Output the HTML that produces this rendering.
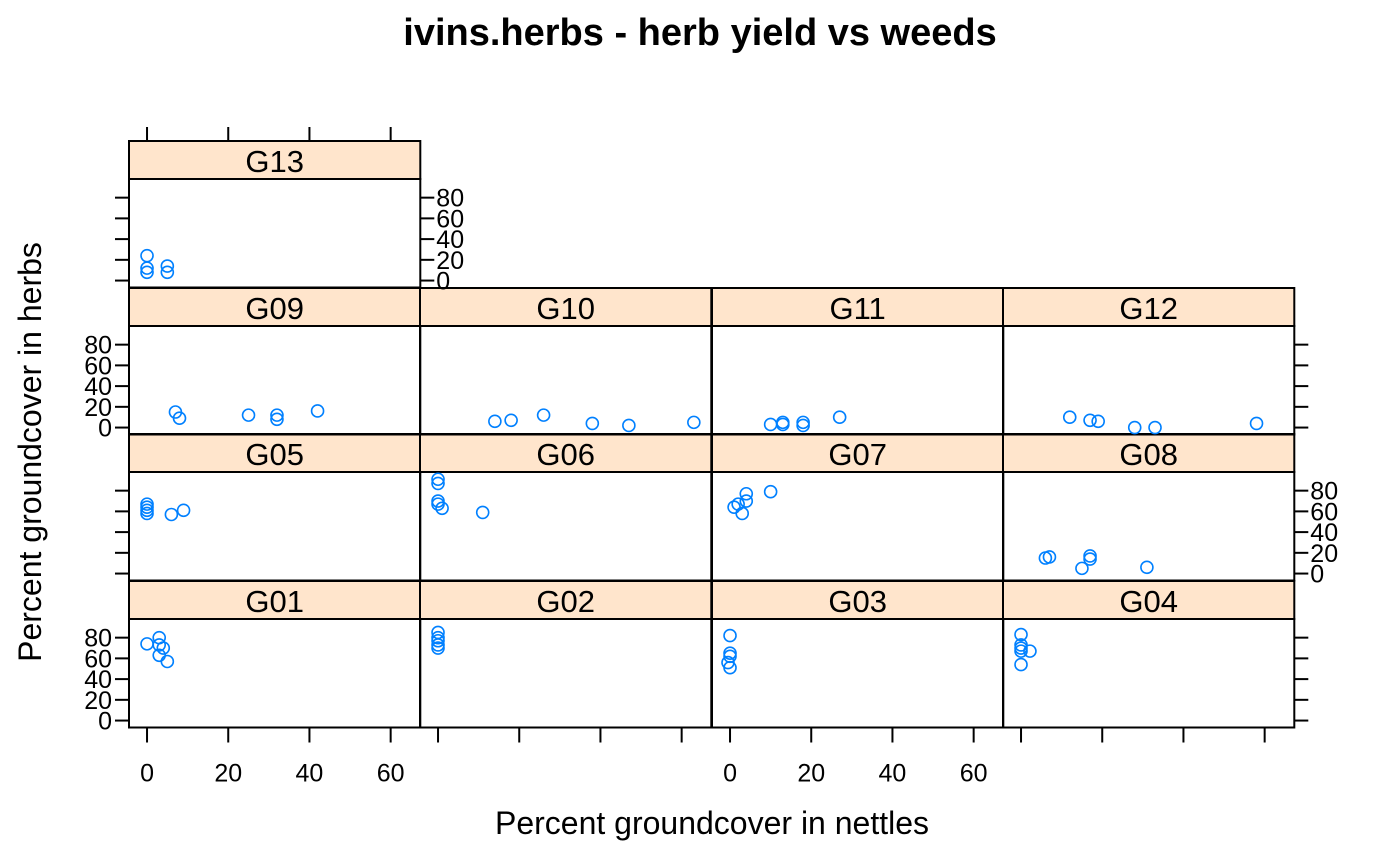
<!DOCTYPE html>
<html><head><meta charset="utf-8"><style>
body{margin:0;background:#fff}
svg{display:block;font-family:"Liberation Sans",Arial,sans-serif}
</style></head><body>
<svg id="chart" width="1400" height="866" viewBox="0 0 1400 866">
<text x="700" y="45" text-anchor="middle" font-size="38" font-weight="bold">ivins.herbs - herb yield vs weeds</text>
<text x="712" y="834" text-anchor="middle" font-size="32">Percent groundcover in nettles</text>
<text transform="translate(41,452) rotate(-90)" text-anchor="middle" font-size="32">Percent groundcover in herbs</text>
<g id="panels"></g>
</svg>
<script>
const panelNames = ["G01","G02","G03","G04","G05","G06","G07","G08","G09","G10","G11","G12","G13"];
const xTicks = [0,20,40,60];
const yTicks = [0,20,40,60,80];
const G01x=[0,3,3,4,3,5], G01y=[74,80,73,70,63,57];
const G02x=[0,0,0,0,0], G02y=[85,80,77,73,70];
const G03x=[0,0,0,-0.5,0], G03y=[82,65,62,56,51];
const G04x=[0,0,0,2.2,0,0], G04y=[83,73,70,67,67,54];
const G05x=[0,0,0,0,6,9], G05y=[67,64,61,58,57,61];
const G06x=[0,0,0,0,1,11], G06y=[91,87,70,67,63,59];
const G07x=[4,10,2,1,3,4], G07y=[77,79,67,64,58,70];
const G08x=[6,7,15,17,17,31], G08y=[15,16,5,14,17,6];
const G09x=[7,8,25,32,32,42], G09y=[15,9,12,12,8,16];
const G10x=[14,18,26,38,47,63], G10y=[6,7,12,4,2,5];
const G11x=[10,13,13,18,18,27], G11y=[3,3,5,2,5,10];
const G12x=[12,17,19,28,33,58], G12y=[10,7,6,0,0,4];
const G13x=[0,0,0,5,5], G13y=[24,12,8,14,8];
const data={G01:[G01x,G01y],G02:[G02x,G02y],G03:[G03x,G03y],G04:[G04x,G04y],G05:[G05x,G05y],G06:[G06x,G06y],G07:[G07x,G07y],G08:[G08x,G08y],G09:[G09x,G09y],G10:[G10x,G10y],G11:[G11x,G11y],G12:[G12x,G12y],G13:[G13x,G13y]};

const NS="http://www.w3.org/2000/svg";
const g=document.getElementById('panels');
const colL=[129,420,712,1003], colW=291.3;
const rowT=[581,434,288,141], rowH=146.5, stripH=38;
const xMin=-4.44, xMax=67.3, yMin=-6.7, yMax=98;
function mk(t,a){const e=document.createElementNS(NS,t);for(const k in a)e.setAttribute(k,a[k]);g.appendChild(e);return e;}
panelNames.forEach((nm,i)=>{
  const c=i%4, r=Math.floor(i/4);
  const L=colL[c], T=rowT[r], pt=T+stripH, B=T+rowH;
  const sx=v=>L+(v-xMin)/(xMax-xMin)*colW;
  const sy=v=>B-(v-yMin)/(yMax-yMin)*(B-pt);
  let e=mk('rect',{x:L,y:T,width:colW,height:stripH,fill:'#ffe5cc',stroke:'#000','stroke-width':2});
  
  
  e=mk('text',{x:L+colW/2,y:T+31,'text-anchor':'middle','font-size':31});
  e.textContent=nm;
  
  
  e=mk('rect',{x:L,y:pt,width:colW,height:B-pt,fill:'none',stroke:'#000','stroke-width':2});
  
  
  const leftSide=(c===0), rightSide=(c===3)||(r===3);
  const leftLabels=(r%2===0), rightLabels=(r%2===1);
  yTicks.forEach(v=>{
    const y=sy(v);
    if(leftSide){
      e=mk('line',{x1:L-14,x2:L,y1:y,y2:y,stroke:'#000','stroke-width':2});
      
      
      if(leftLabels){e=mk('text',{x:L-17,y:y+9,'text-anchor':'end','font-size':25});e.textContent=v;
        
        }
    }
    if(rightSide){
      const R=L+colW;
      e=mk('line',{x1:R,x2:R+14,y1:y,y2:y,stroke:'#000','stroke-width':2});
      
      
      if(rightLabels){e=mk('text',{x:R+16,y:y+9,'text-anchor':'start','font-size':25});e.textContent=v;
        
        }
    }
  });
  xTicks.forEach(v=>{
    const x=sx(v);
    if(r===0){
      e=mk('line',{x1:x,x2:x,y1:B+1,y2:B+15,stroke:'#000','stroke-width':2});
      
      
      if(c%2===0){e=mk('text',{x:x,y:B+54,'text-anchor':'middle','font-size':25});e.textContent=v;
        
        }
    }
    if(r===3){
      e=mk('line',{x1:x,x2:x,y1:T-14,y2:T,stroke:'#000','stroke-width':2});
      
      
    }
  });
  const [xs,ys]=data[nm];
  xs.forEach((xv,j)=>{
    e=mk('circle',{cx:sx(xv),cy:sy(ys[j]),r:6,fill:'none',stroke:'#0080ff','stroke-width':1.6});
    
    
  });
});
</script>
</body></html>
